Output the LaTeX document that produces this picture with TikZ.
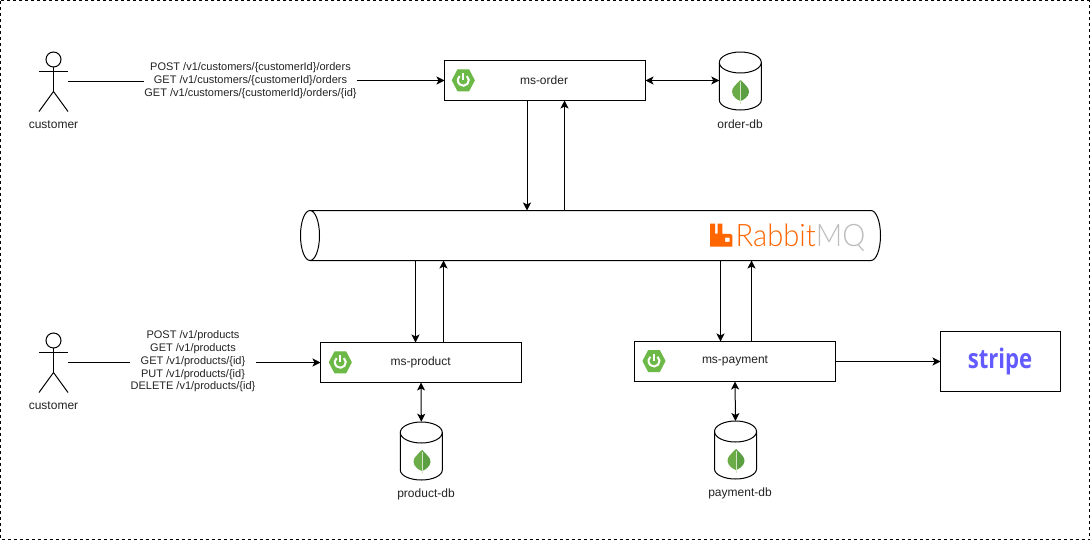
\documentclass[tikz,border=0pt]{standalone}
\usepackage{fontspec}
\setmainfont{Liberation Sans}
\newfontfamily\rabbitfont{Lato Light}
\newfontfamily\stripefont{Open Sans}
\usetikzlibrary{arrows.meta}
\definecolor{springgreen}{HTML}{6DB947}
\definecolor{leafgreen}{HTML}{6CAC48}
\definecolor{leafdark}{HTML}{5C9F42}
\definecolor{rabbitorange}{HTML}{FF6600}
\definecolor{rabbitgrey}{HTML}{BDBDBD}
\definecolor{stripeblue}{HTML}{635BFF}
\definecolor{labelgrey}{HTML}{222222}
\tikzset{
	service/.style={draw,line width=1pt,fill=white,minimum width=201pt,minimum height=40pt,inner sep=0pt,outer sep=0pt},
	database/.style={minimum width=42pt,minimum height=58pt,inner sep=0pt,outer sep=0pt},
	caption/.style={font=\fontsize{12pt}{14pt}\selectfont,text=labelgrey,inner sep=0pt},
	routes/.style={text=labelgrey,align=center,inner sep=0pt,font=\fontsize{11pt}{12.8pt}\selectfont},
	link/.style={line width=1pt,->},
	dbllink/.style={line width=1pt,<->}
}
% spring badge
\newcommand{\springicon}[2]{
	\fill [springgreen,draw=springgreen,line width=1pt,line join=round] (#1-11,#2) -- (#1-5.5,#2-10.5) -- (#1+5.5,#2-10.5) -- (#1+11,#2) -- (#1+5.5,#2+10.5) -- (#1-5.5,#2+10.5) -- cycle;
	\draw [white,line width=2pt] (#1+3.6,#2-4.2) arc (49:-229:5.5pt);
	\draw [white,line width=2pt] (#1,#2-7.5) -- (#1,#2-0.5);
}
% mongo leaf
\newcommand{\leaficon}[2]{
	\fill [leafgreen] (#1,#2-11) .. controls (#1-4,#2-7) and (#1-9,#2-3) .. (#1-8.5,#2+1) .. controls (#1-8,#2+6) and (#1-3,#2+9) .. (#1,#2+10) -- cycle;
	\fill [leafdark] (#1,#2-11) .. controls (#1+4,#2-7) and (#1+9,#2-3) .. (#1+8.5,#2+1) .. controls (#1+8,#2+6) and (#1+3,#2+9) .. (#1,#2+10) -- cycle;
	\draw [white!70!leafgreen,line width=.5pt] (#1,#2-9) -- (#1,#2+13);
}
% can drawn round a named node
\newcommand{\dbcan}[1]{
	\draw [line width=1pt] ([yshift=-10.5pt]#1.north west) arc (180:0:21pt and 10.5pt) -- ([yshift=10pt]#1.south east) arc (0:-180:21pt and 10pt) -- cycle;
	\draw [line width=1pt] ([yshift=-10.5pt]#1.north west) arc (180:360:21pt and 10.5pt);
}
% stick figure
\newcommand{\actor}[2]{
	\draw [line width=1pt] (#1,#2) circle (7.5pt);
	\draw [line width=1pt] (#1,#2+7.5) -- (#1,#2+32) (#1-14.5,#2+12) -- (#1+14.5,#2+12);
	\draw [line width=1pt] (#1-14.5,#2+52) -- (#1,#2+32) -- (#1+14.5,#2+52);
}
\begin{document}
\begin{tikzpicture}[line cap=butt,line join=miter,>={Stealth[length=8pt,width=8pt,inset=2pt]},x=1pt,y=-1pt]
	\useasboundingbox (0,0) rectangle (1091,541);
	\draw [line width=1.2pt,dash pattern=on 3pt off 3pt] (0.8,0.8) rectangle (1089.5,539.8);

	% actors
	\actor{53.5}{59.5}
	\actor{53.5}{340.5}
	\node [caption] (customerA) at (53.5,125) {customer};
	\node [caption] (customerB) at (53.5,406) {customer};
	\coordinate (actorA) at (68,81.5);
	\coordinate (actorB) at (68,362.5);

	% services
	\node [service] (order) at (545,80.5) {};
	\node [service] (product) at (421,362.5) {};
	\node [service] (payment) at (735,361.5) {};
	\node [draw,line width=1pt,minimum width=120pt,minimum height=60pt,inner sep=0pt,outer sep=0pt] (stripe) at (1000.5,361.5) {};
	\springicon{463.3}{80.3}
	\springicon{340.3}{362.3}
	\springicon{654}{361}
	\node [caption] (orderlabel) at (544,80) {ms-order};
	\node [caption] (productlabel) at (420.7,362) {ms-product};
	\node [caption] (paymentlabel) at (735,361) {ms-payment};
	\node [inner sep=0pt,text=stripeblue,xscale=.82,font=\stripefont\bfseries\fontsize{27pt}{27pt}\selectfont] (stripelogo) at (1000,361) {stripe};

	% databases
	\node [database] (orderdb) at (740.3,81) {};
	\node [database] (productdb) at (421.3,451) {};
	\node [database] (paymentdb) at (735.5,450) {};
	\dbcan{orderdb}
	\dbcan{productdb}
	\dbcan{paymentdb}
	\leaficon{740.5}{91}
	\leaficon{422}{461}
	\leaficon{736}{460}
	\node [caption] (orderdblabel) at (740,124) {order-db};
	\node [caption] (productdblabel) at (426,494) {product-db};
	\node [caption] (paymentdblabel) at (740,493) {payment-db};

	% broker
	\node [minimum width=580pt,minimum height=50pt,inner sep=0pt,outer sep=0pt] (broker) at (590.5,235.5) {};
	\draw [line width=1pt] ([xshift=9.5pt]broker.north west) -- ([xshift=-9.5pt]broker.north east) arc (90:-90:9.5pt and 25pt) -- ([xshift=9.5pt]broker.south west) arc (270:90:9.5pt and 25pt) arc (90:-90:9.5pt and 25pt);
	\fill [rabbitorange,even odd rule] (710,223.5) -- (715,223.5) -- (715,233.5) -- (717.5,233.5) -- (717.5,223.5) -- (722.3,223.5) -- (722.3,233.8) -- (730.5,233.8) .. controls (731.7,233.8) and (732.3,234.4) .. (732.3,235.5) -- (732.3,246.7) -- (710,246.7) -- cycle (725,237.7) rectangle (729.5,241.9);
	\node [inner sep=0pt,anchor=base west,xscale=.94,font=\rabbitfont\fontsize{31pt}{31pt}\selectfont] (rabbitlogo) at (735.5,246.7) {\textcolor{rabbitorange}{Rabbit}\textcolor{rabbitgrey}{MQ}};

	% routes
	\node [routes] (routesA) at (250.5,80.5) {POST /v1/customers/\{customerId\}/orders\\GET /v1/customers/\{customerId\}/orders\\GET /v1/customers/\{customerId\}/orders/\{id\}};
	\node [routes] (routesB) at (193,361.5) {POST /v1/products\\GET /v1/products\\GET /v1/products/\{id\}\\PUT /v1/products/\{id\}\\DELETE /v1/products/\{id\}};

	% points on the broker
	\coordinate (busA) at (527,210.5);
	\coordinate (busB) at (564.5,210.5);
	\coordinate (busC) at (415.5,260.5);
	\coordinate (busD) at (443.5,260.5);
	\coordinate (busE) at (720.5,260.5);
	\coordinate (busF) at (751.5,260.5);

	\draw [line width=1pt] (actorA) -- (actorA -| routesA.west);
	\draw [link] (routesA.east |- order.west) -- (order.west);
	\draw [line width=1pt] (actorB) -- (actorB -| routesB.west);
	\draw [link] (routesB.east |- product.west) -- (product.west);
	\draw [dbllink] (order.east) -- (order.east -| orderdb.west);
	\draw [dbllink] (product.south) -- (productdb.north |- 0,421.7);
	\draw [dbllink] (payment.south) -- (paymentdb.north |- 0,421);
	\draw [link] (order.south -| busA) -- (busA);
	\draw [link] (busB) -- (order.south -| busB);
	\draw [link] (busC) -- (product.north -| busC);
	\draw [link] (product.north -| busD) -- (busD);
	\draw [link] (busE) -- (payment.north -| busE);
	\draw [link] (payment.north -| busF) -- (busF);
	\draw [link] (payment.east) -- (stripe.west |- payment.east);
\end{tikzpicture}
\end{document}
